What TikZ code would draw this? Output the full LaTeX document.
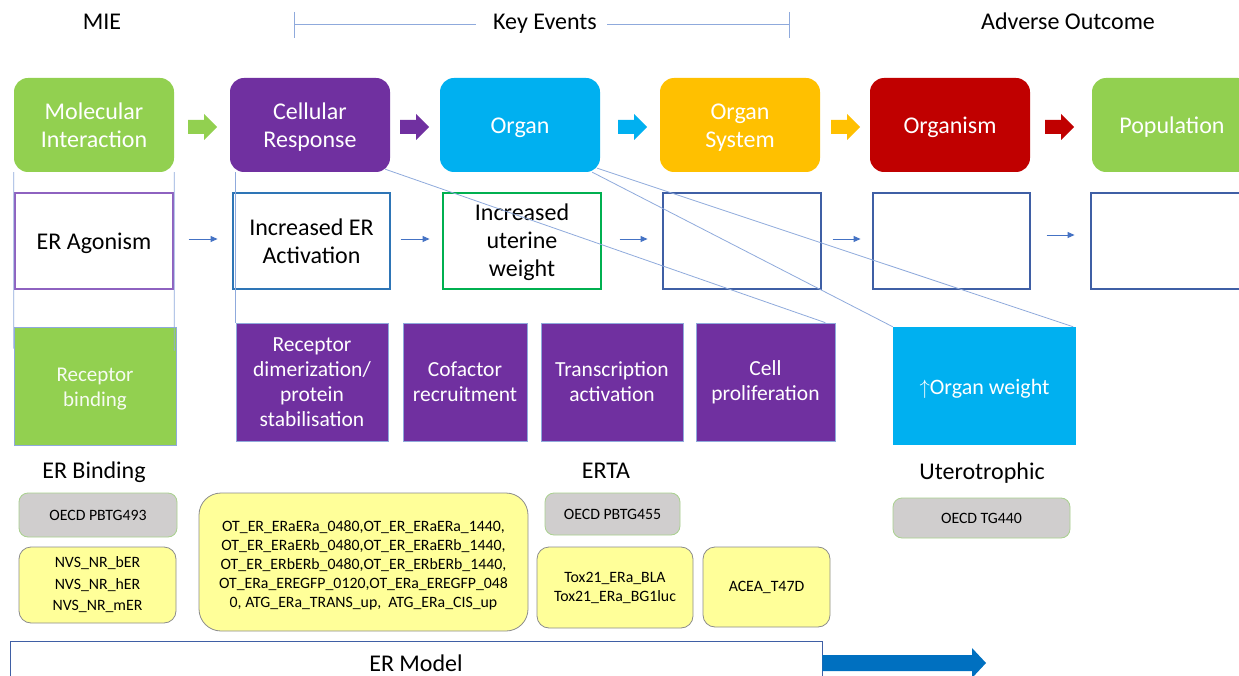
\documentclass[tikz,border=0pt]{standalone}
\usepackage{fontspec}
\setmainfont{Carlito}
\usetikzlibrary{calc,arrows.meta}
\definecolor{cgreen}{HTML}{92D050}
\definecolor{cpurple}{HTML}{7030A0}
\definecolor{ccyan}{HTML}{00B0F0}
\definecolor{cgold}{HTML}{FFC000}
\definecolor{cred}{HTML}{C00000}
\definecolor{cline}{HTML}{8FAADC}
\definecolor{carrow}{HTML}{4472C4}
\definecolor{cagon}{HTML}{8E62C0}
\definecolor{cact}{HTML}{2E75B6}
\definecolor{cuter}{HTML}{00B050}
\definecolor{cempty}{HTML}{3F5FA5}
\definecolor{cgray}{HTML}{D0CECE}
\definecolor{cgrayb}{HTML}{A9D18E}
\definecolor{cyel}{HTML}{FFFF99}
\definecolor{cyelb}{HTML}{8C8C8C}
\definecolor{cmodel}{HTML}{0070C0}
\newcommand{\blockarrow}[2]{\fill[#2] (#1) ++(0,-7) -- ++(16,0) -- ++(0,-6) -- ++(13,13) -- ++(-13,13) -- ++(0,-6) -- ++(-16,0) -- cycle;}
\newcommand{\lowr}[2]{\raisebox{-#1}[\height][\depth]{\begin{tabular}{@{}c@{}}#2\end{tabular}}}
\begin{document}
\begin{tikzpicture}[x=1pt,y=-1pt,
  hdr/.style={font=\fontsize{24}{28}\selectfont, inner sep=0pt, anchor=base},
  topbox/.style={rounded corners=14pt, minimum width=160pt, minimum height=94pt, text=white, align=center, inner sep=0pt, font=\fontsize{24}{28}\selectfont},
  midbox/.style={draw, line width=1.1pt, fill=white, minimum height=96pt, align=center, inner sep=0pt, font=\fontsize{24}{28}\selectfont},
  purplebox/.style={fill=cpurple, draw=cline, line width=0.7pt, minimum height=118pt, text=white, align=center, inner sep=0pt, font=\fontsize{21.5}{25}\selectfont},
  graybox/.style={fill=cgray, draw=cgrayb, line width=0.8pt, rounded corners=9pt, align=center, inner sep=0pt, font=\fontsize{15.8}{19}\selectfont},
  yelbox/.style={fill=cyel, draw=cyelb, line width=0.8pt, rounded corners=12pt, align=center, inner sep=0pt, font=\fontsize{15.8}{19}\selectfont},
  thinline/.style={draw=cline, line width=0.8pt},
  sarr/.style={draw=carrow, line width=0.9pt, -{Triangle[length=7pt,width=6pt]}}
]
\clip (0,0) rectangle (1239,676);
\fill[white] (0,0) rectangle (1239,676);

% headers
\node[hdr] (mie) at (102,30) {MIE};
\node[hdr] (ke) at (545,30) {Key Events};
\node[hdr] (ao) at (1068,30) {Adverse Outcome};
\coordinate (kl) at (294,24);
\coordinate (kr) at (789,24);
\draw[thinline] (kl |- 0,12) -- (kl |- 0,38);
\draw[thinline] (kr |- 0,12) -- (kr |- 0,38);
\draw[thinline] (kl) -- ($(ke.west |- kl)+(-17,0)$);
\draw[thinline] ($(ke.east |- kr)+(10,0)$) -- (kr);

% top row
\node[topbox, fill=cgreen] (mol) at (94,125) {\lowr{3pt}{Molecular\\Interaction}};
\node[topbox, fill=cpurple] (cell) at (310,125) {\lowr{3pt}{Cellular\\Response}};
\node[topbox, fill=ccyan] (organ) at (520,125) {\lowr{3pt}{Organ}};
\node[topbox, fill=cgold] (osys) at (740,125) {\lowr{3pt}{Organ\\System}};
\node[topbox, fill=cred] (orgm) at (950,125) {\lowr{3pt}{Organism}};
\node[topbox, fill=cgreen] (pop) at (1172,125) {\lowr{3pt}{Population}};

\blockarrow{$(mol.east)+(14,2)$}{cgreen}
\blockarrow{$(cell.east)+(10,2)$}{cpurple}
\blockarrow{$(organ.east)+(18,2)$}{ccyan}
\blockarrow{$(osys.east)+(11,2)$}{cgold}
\blockarrow{$(orgm.east)+(15,2)$}{cred}

% middle row
\node[midbox, draw=cagon, minimum width=158pt] (agon) at (94,241) {\lowr{3pt}{ER Agonism}};
\node[midbox, draw=cact, minimum width=157pt] (act) at (311.5,241) {\lowr{3pt}{Increased ER\\Activation}};
\node[midbox, draw=cuter, minimum width=158pt] (uter) at (522,241) {\lowr{2pt}{Increased\\uterine\\weight}};
\node[midbox, draw=cempty, minimum width=158pt] (e1) at (742,241) {};
\node[midbox, draw=cempty, minimum width=157pt] (e2) at (951.5,241) {};
\node[midbox, draw=cempty, minimum width=158pt] (e3) at (1170,241) {};

\draw[sarr] ([xshift=15pt,yshift=2pt]agon.east) -- ++(29,0);
\draw[sarr] ([xshift=10pt,yshift=2pt]act.east) -- ++(29,0);
\draw[sarr] ([xshift=18pt,yshift=2pt]uter.east) -- ++(28,0);
\draw[sarr] ([xshift=11pt,yshift=2pt]e1.east) -- ++(28,0);
\draw[sarr] ([xshift=16pt,yshift=6pt]e2.east) -- ++(28,0);

% detail boxes
\node[fill=cgreen, draw=cline, line width=0.7pt, minimum width=162pt, minimum height=118pt, text=white!92!cgreen, align=center, inner sep=0pt, font=\fontsize{21}{25}\selectfont] (recb) at (95,386) {\lowr{3pt}{Receptor\\binding}};
\node[purplebox, minimum width=152pt] (rdim) at (312,382) {Receptor\\dimerization/\\protein\\stabilisation};
\node[purplebox, minimum width=124pt] (cof) at (465,382) {Cofactor\\recruitment};
\node[purplebox, minimum width=142pt] (trans) at (612,382) {Transcription\\activation};
\node[purplebox, minimum width=139pt] (prolif) at (765.5,382) {Cell\\proliferation};
\node[fill=ccyan, minimum width=183pt, minimum height=118pt, text=white, inner sep=0pt, font=\fontsize{22}{25}\selectfont] (ow) at (984.5,386) {\lowr{3pt}{$\uparrow$Organ weight}};

% callout lines
\draw[thinline] (mol.south west) -- ([yshift=-22pt]recb.north west);
\draw[thinline] (mol.south east) -- ([xshift=-2pt,yshift=-24pt]recb.north east);
\draw[thinline] (cell.south west -| rdim.north west) -- (rdim.north west);
\draw[thinline] ([xshift=-5pt,yshift=3pt]cell.south east) -- ([xshift=-10pt]prolif.north east);
\draw[thinline] ([xshift=-8pt]organ.south east) -- (ow.north west);
\draw[thinline] ([xshift=-3pt,yshift=4pt]organ.south east) -- ([xshift=-3pt]ow.north east);

% labels
\node[hdr] (erb) at (94,478) {ER Binding};
\node[hdr] (erta) at (606,478) {ERTA};
\node[hdr] (utero) at (982,479) {Uterotrophic};

% assay boxes
\node[graybox, minimum width=158pt, minimum height=44pt] (g493) at (98,515) {OECD PBTG493};
\node[yelbox, minimum width=157pt, minimum height=76pt, font=\fontsize{15.8}{21.5}\selectfont] (nvs) at (97.5,585) {NVS\_NR\_bER\\NVS\_NR\_hER\\NVS\_NR\_mER};
\node[yelbox, rounded corners=22pt, minimum width=329pt, minimum height=138pt] (ot) at (363.5,562) {\lowr{4pt}{OT\_ER\_ERaERa\_0480,OT\_ER\_ERaERa\_1440,\\OT\_ER\_ERaERb\_0480,OT\_ER\_ERaERb\_1440,\\OT\_ER\_ERbERb\_0480,OT\_ER\_ERbERb\_1440,\\OT\_ERa\_EREGFP\_0120,OT\_ERa\_EREGFP\_048\\0, ATG\_ERa\_TRANS\_up,\ \ ATG\_ERa\_CIS\_up}};
\node[graybox, minimum width=135pt, minimum height=42pt] (g455) at (612.5,514) {OECD PBTG455};
\node[yelbox, minimum width=156pt, minimum height=81pt] (tox) at (615,587.5) {Tox21\_ERa\_BLA\\Tox21\_ERa\_BG1luc};
\node[yelbox, minimum width=127pt, minimum height=80pt] (acea) at (766.5,587) {ACEA\_T47D};
\node[graybox, minimum width=177pt, minimum height=40pt] (g440) at (981.5,518) {OECD TG440};

% ER model bar
\node[draw=cempty, line width=0.9pt, fill=white, minimum width=812pt, minimum height=50pt, inner sep=0pt] (model) at (416,666) {};
\node[hdr] (modeltxt) at (416,671) {ER Model};
\fill[cmodel] (model.east |- 0,655) -- (972,655) -- (972,648) -- (986,663) -- (972,678) -- (972,671) -- (model.east |- 0,671) -- cycle;
\end{tikzpicture}
\end{document}
